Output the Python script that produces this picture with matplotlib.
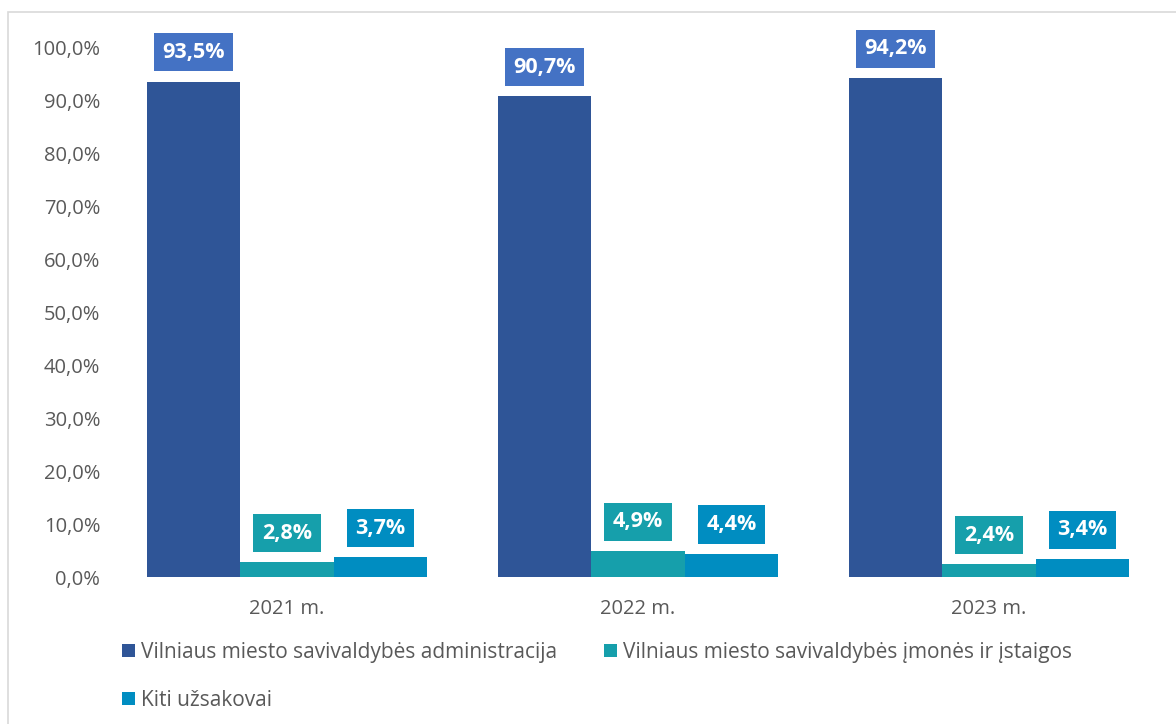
import matplotlib

matplotlib.use("Agg")

import matplotlib.pyplot as plt
import numpy as np
from matplotlib.patches import Rectangle

years = ["2021 m.", "2022 m.", "2023 m."]
series_names = [
    "Vilniaus miesto savivaldybės administracija",
    "Vilniaus miesto savivaldybės įmonės ir įstaigos",
    "Kiti užsakovai",
]
administracija = [93.5, 90.7, 94.2]
imones = [2.8, 4.9, 2.4]
kiti = [3.7, 4.4, 3.4]
yticks = [0, 10, 20, 30, 40, 50, 60, 70, 80, 90, 100]

bar_colors = ["#2F5597", "#169FAB", "#008DC1"]
label_colors = ["#4472C4", "#169FAB", "#008DC1"]
text_color = "#595959"


def pct(v):
    return f"{v:.1f}%".replace(".", ",")


plt.rcParams["font.family"] = ["Open Sans", "DejaVu Sans"]

fig = plt.figure(figsize=(11.76, 7.24), dpi=100)
fig.patches.append(Rectangle((8 / 1176, -0.1), 1.2, 1.1 - 12 / 724, transform=fig.transFigure,
                             fill=False, edgecolor="#D9D9D9", linewidth=1.2))
ax = fig.add_axes([0.0948, 0.203, 0.8954, 0.732])

x = np.arange(len(years))
width = 0.8 / 3
for i, (vals, name) in enumerate(zip([administracija, imones, kiti], series_names)):
    pos = x + (i - 1) * width
    ax.bar(pos, vals, width, color=bar_colors[i], label=name, linewidth=0)
    for xp, v in zip(pos, vals):
        ax.annotate(pct(v), (xp, v), xytext=(0, 21), textcoords="offset points",
                    ha="center", va="center", fontsize=15.5, fontweight="bold", color="white",
                    bbox=dict(boxstyle="square,pad=0.4", facecolor=label_colors[i], edgecolor="none"))

ax.set_xlim(-0.5, 2.5)
ax.set_ylim(0, 100)
ax.set_yticks(yticks)
ax.set_yticklabels([pct(t) for t in yticks])
ax.set_xticks(x)
ax.set_xticklabels(years)
ax.tick_params(axis="both", length=0, labelsize=14.5, labelcolor=text_color)
ax.tick_params(axis="x", pad=16)
ax.tick_params(axis="y", pad=8)
for spine in ax.spines.values():
    spine.set_visible(False)

handles, labels = ax.get_legend_handles_labels()
order = [0, 2, 1]
fig.legend([handles[k] for k in order], [labels[k] for k in order], loc="upper left",
           bbox_to_anchor=(0.097, 0.125), ncol=2, frameon=False, fontsize=15,
           labelcolor=text_color, handlelength=0.6, handleheight=0.6, handletextpad=0.3,
           columnspacing=2.25, labelspacing=1.3, borderaxespad=0)

fig.savefig("out.png", dpi=100)
plt.close(fig)
